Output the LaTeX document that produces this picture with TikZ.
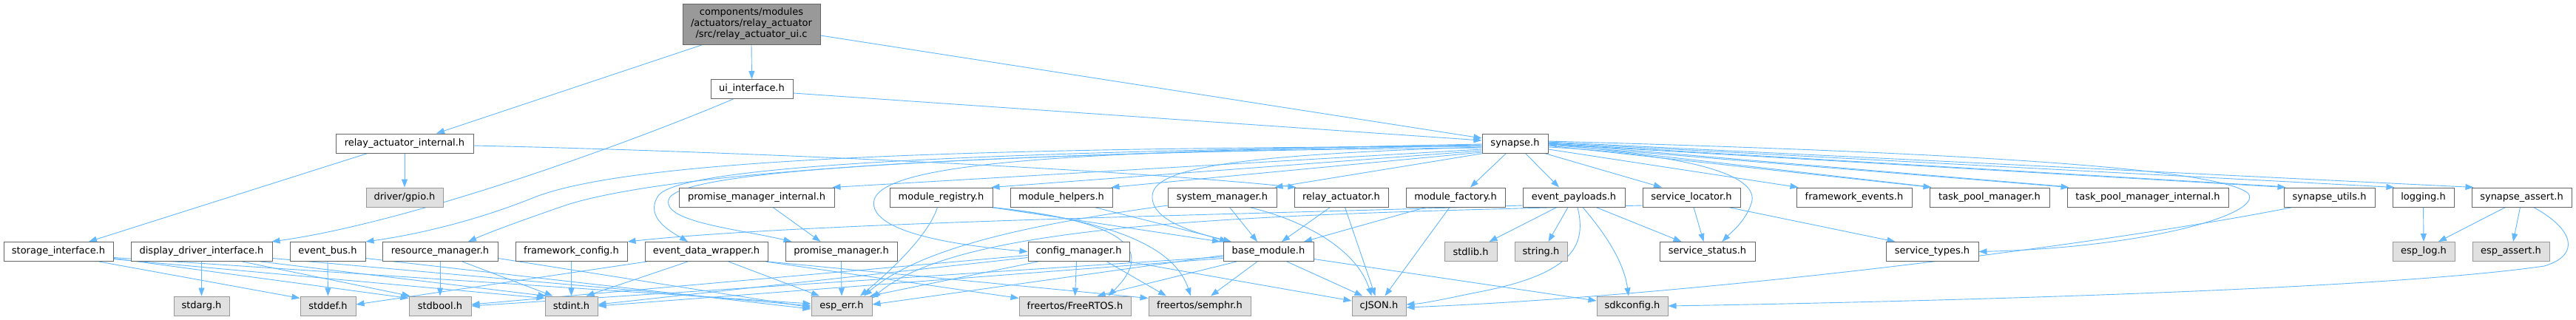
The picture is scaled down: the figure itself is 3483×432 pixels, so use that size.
\documentclass[tikz,border=0pt]{standalone}
\usepackage{fontspec}
\setmainfont{DejaVu Sans}
\usetikzlibrary{arrows.meta}
\definecolor{edgec}{HTML}{63B8FF}
\definecolor{nborder}{HTML}{666666}
\definecolor{gborder}{HTML}{999999}
\definecolor{gfill}{HTML}{E0E0E0}
\definecolor{mfill}{HTML}{999999}
\pgfdeclarelayer{bg}
\pgfsetlayers{bg,main}
\tikzset{
  nb/.style={draw=nborder, fill=white, line width=1pt, inner sep=0pt, minimum height=26pt, font=\fontsize{13}{15}\selectfont},
  gb/.style={nb, draw=gborder, fill=gfill},
  mainbox/.style={nb, fill=mfill, align=center},
  e/.style={draw=edgec, line width=0.9pt, -{Triangle[length=11pt,width=8pt]}},
}
\begin{document}
\begin{tikzpicture}[x=1pt,y=-1pt]
\useasboundingbox (0,0) rectangle (3483,432);
% nodes
\node[mainbox, minimum width=186pt, minimum height=55pt] (main) at (1016,32.5) {components/modules\\/actuators/relay\_actuator\\/src/relay\_actuator\_ui.c};
\node[nb, minimum width=111pt] (ui) at (1016.5,120.5) {ui\_interface.h};
\node[nb, minimum width=186pt] (rai) at (547,194) {relay\_actuator\_internal.h};
\node[nb, minimum width=89pt] (syn) at (2048.5,194) {synapse.h};
% row 3
\node[gb, minimum width=104pt] (gpio) at (547,267) {driver/gpio.h};
\node[nb, minimum width=210pt] (pmi) at (1023,267) {promise\_manager\_internal.h};
\node[nb, minimum width=139pt] (mreg) at (1272.5,267) {module\_registry.h};
\node[nb, minimum width=138pt] (mhelp) at (1435,267) {module\_helpers.h};
\node[nb, minimum width=147pt] (sysm) at (1652.5,267) {system\_manager.h};
\node[nb, minimum width=127pt] (ract) at (1813.5,267) {relay\_actuator.h};
\node[nb, minimum width=134pt] (mfac) at (1968,267) {module\_factory.h};
\node[nb, minimum width=138pt] (epay) at (2128,267) {event\_payloads.h};
\node[nb, minimum width=132pt] (sloc) at (2287,267) {service\_locator.h};
\node[nb, minimum width=156pt] (fev) at (2507,267) {framework\_events.h};
\node[nb, minimum width=162pt] (tpm) at (2690,267) {task\_pool\_manager.h};
\node[nb, minimum width=218pt] (tpmi) at (2904,267) {task\_pool\_manager\_internal.h};
\node[nb, minimum width=123pt] (sutil) at (3149.5,267) {synapse\_utils.h};
\node[nb, minimum width=83pt] (log) at (3276.5,267) {logging.h};
\node[nb, minimum width=135pt] (sassert) at (3409.5,267) {synapse\_assert.h};
% row 4
\node[nb, minimum width=148pt] (stor) at (79,340.5) {storage\_interface.h};
\node[nb, minimum width=191pt] (disp) at (272.5,340.5) {display\_driver\_interface.h};
\node[nb, minimum width=102pt] (ebus) at (443,340.5) {event\_bus.h};
\node[nb, minimum width=156pt] (resm) at (595,340.5) {resource\_manager.h};
\node[nb, minimum width=151pt] (fcfg) at (772.5,340.5) {framework\_config.h};
\node[nb, minimum width=166pt] (edw) at (955,340.5) {event\_data\_wrapper.h};
\node[nb, minimum width=151pt] (pm) at (1137.5,340.5) {promise\_manager.h};
\node[nb, minimum width=137pt] (cfgm) at (1458.5,340.5) {config\_manager.h};
\node[nb, minimum width=122pt] (base) at (1715,340.5) {base\_module.h};
\node[gb, minimum width=71pt] (stdlib) at (1988.5,340.5) {stdlib.h};
\node[gb, minimum width=71pt] (string) at (2083.5,340.5) {string.h};
\node[nb, minimum width=129pt] (sstat) at (2308.5,340.5) {service\_status.h};
\node[nb, minimum width=125pt] (stypes) at (2612.5,340.5) {service\_types.h};
\node[gb, minimum width=84pt] (esplog) at (3277,340.5) {esp\_log.h};
\node[gb, minimum width=104pt] (espassert) at (3395,340.5) {esp\_assert.h};
% row 5
\node[gb, minimum width=75pt] (stdarg) at (272.5,414) {stdarg.h};
\node[gb, minimum width=75pt] (stddef) at (443.5,414) {stddef.h};
\node[gb, minimum width=84pt] (stdbool) at (595,414) {stdbool.h};
\node[gb, minimum width=71pt] (stdint) at (772.5,414) {stdint.h};
\node[gb, minimum width=82pt] (esperr) at (1138,414) {esp\_err.h};
\node[gb, minimum width=151pt] (freertos) at (1453.5,414) {freertos/FreeRTOS.h};
\node[gb, minimum width=138pt] (semphr) at (1622,414) {freertos/semphr.h};
\node[gb, minimum width=73pt] (cjson) at (1864.5,414) {cJSON.h};
\node[gb, minimum width=96pt] (sdk) at (2207,414) {sdkconfig.h};
\begin{pgfonlayer}{bg}
\fill[white] (0,0) rectangle (3483,432);
% top
\draw[e] ([xshift=-66pt]main.south) -- ([xshift=43pt]rai.north);
\draw[e] (main.south) -- (ui.north);
\draw[e] ([yshift=-15.5pt]main.east) -- ([yshift=7pt]syn.west);
\draw[e] ([yshift=-5.5pt]ui.east) -- ([yshift=4pt]syn.west);
\draw[e] ([xshift=-25pt]ui.south) .. controls (860,190) and (560,300) .. ([xshift=95pt]disp.north);
\draw[e] ([xshift=-50pt]rai.south) -- ([xshift=41pt]stor.north);
\draw[e] (rai.south) -- (gpio.north);
\draw[e] ([yshift=-3pt]rai.east) .. controls (1000,205) and (1500,228) .. ([xshift=3pt]ract.north west);
% synapse, left fan
\draw[e] ([yshift=-4pt]syn.west) .. controls (1300,200) and (850,215) .. (720,268) .. controls (640,300) and (560,318) .. (ebus.north east);
\draw[e] ([yshift=-6pt]syn.west) .. controls (1300,205) and (900,235) .. (767,277) .. controls (700,300) and (660,315) .. ([xshift=38pt]resm.north);
\draw[e] ([yshift=-2pt]syn.west) .. controls (1400,205) and (920,220) .. (890,265) .. controls (870,295) and (910,315) .. ([xshift=-25pt]edw.north);
\draw[e] ([yshift=-3pt]syn.west) .. controls (1400,208) and (930,225) .. (905,268) .. controls (890,300) and (1000,310) .. ([xshift=-67pt]pm.north);
\draw[e] ([yshift=-8pt]syn.west) -- ([xshift=-3pt]pmi.north east);
\draw[e] ([yshift=-10pt]syn.west) -- ([xshift=-2pt]mreg.north east);
\draw[e] ([yshift=-12pt]syn.west) -- ([xshift=-2pt]mhelp.north east);
\draw[e] ([xshift=2pt]syn.south west) -- ([xshift=-3pt]sysm.north east);
\draw[e] ([yshift=-5pt]syn.west) .. controls (1650,210) and (1560,230) .. (1558,265) .. controls (1556,300) and (1620,315) .. ([xshift=-55pt]base.north);
\draw[e] ([yshift=-1pt]syn.west) .. controls (1500,205) and (1200,215) .. (1182,270) .. controls (1170,320) and (1330,335) .. (cfgm.west);
% synapse, right fan
\draw[e] ([xshift=-12pt]syn.south) -- ([xshift=20pt]mfac.north);
\draw[e] ([xshift=14pt]syn.south) -- ([xshift=-20pt]epay.north);
\draw[e] ([xshift=-5pt]syn.south east) -- ([xshift=-40pt]sloc.north);
\draw[e] ([yshift=-8pt]syn.east) -- ([xshift=3pt]fev.north west);
\draw[e] ([yshift=-5pt]syn.east) .. controls (2300,210) and (2380,240) .. (2368,275) .. controls (2360,300) and (2340,315) .. ([xshift=20pt]sstat.north);
\draw[e] ([yshift=-3pt]syn.east) -- ([xshift=3pt]tpm.north west);
\draw[e] ([xshift=-2pt,yshift=1pt]tpm.north west) -- (syn.east);
\draw[e] ([yshift=-2pt]syn.east) -- ([xshift=3pt]tpmi.north west);
\draw[e] ([xshift=-2pt,yshift=1pt]tpmi.north west) -- (syn.east);
\draw[e] ([yshift=-1pt]syn.east) -- ([xshift=3pt]sutil.north west);
\draw[e] ([xshift=-2pt,yshift=1pt]sutil.north west) -- (syn.east);
\draw[e] ([yshift=1pt]syn.east) -- ([xshift=3pt]log.north west);
\draw[e] ([yshift=2pt]syn.east) -- ([xshift=3pt]sassert.north west);
\draw[e] ([yshift=3pt]syn.east) .. controls (2600,205) and (3000,225) .. (3040,262) .. controls (3060,290) and (2900,335) .. (stypes.east);
% row 3 down
\draw[e] ([xshift=22pt]pmi.south) -- ([xshift=-28pt]pm.north);
\draw[e] ([xshift=-5pt]mreg.south) .. controls (1255,320) and (1200,370) .. ([xshift=25pt]esperr.north);
\draw[e] ([xshift=-2pt]mreg.south east) -- ([xshift=-65pt]base.north);
\draw[e] ([xshift=-2pt]mreg.south east) .. controls (1530,300) and (1560,340) .. ([xshift=45pt]freertos.north);
\draw[e] ([xshift=-2pt]mreg.south east) .. controls (1520,300) and (1590,340) .. ([xshift=-12pt]semphr.north);
\draw[e] ([xshift=45pt]mhelp.south) -- ([xshift=-50pt]base.north);
\draw[e] ([xshift=10pt]sysm.south) -- ([xshift=-15pt]base.north);
\draw[e] ([xshift=37pt]sysm.south) .. controls (1770,300) and (1835,340) .. ([xshift=-10pt]cjson.north);
\draw[e] ([yshift=-11pt]sysm.west) .. controls (1420,300) and (1250,330) .. ([xshift=30pt]esperr.north);
\draw[e] ([xshift=-15pt]ract.south) -- ([xshift=18pt]base.north);
\draw[e] ([xshift=5pt]ract.south) -- ([xshift=-5pt]cjson.north);
\draw[e] ([xshift=-40pt]mfac.south) -- ([xshift=48pt]base.north);
\draw[e] ([xshift=-8pt]mfac.south) -- ([xshift=8pt]cjson.north);
\draw[e] ([xshift=-23pt]epay.south) -- ([xshift=25pt]stdlib.north);
\draw[e] ([xshift=-8pt]epay.south) -- ([xshift=10pt]string.north);
\draw[e] ([xshift=30pt]epay.south) -- ([xshift=-35pt]sstat.north);
\draw[e] ([xshift=12pt]epay.south) .. controls (2165,310) and (2195,350) .. ([xshift=-5pt]sdk.north);
\draw[e] ([xshift=5pt]epay.south) .. controls (2145,330) and (2130,370) .. (2000,395) .. controls (1960,403) and (1930,410) .. ([yshift=2pt]cjson.east);
\draw[e] ([yshift=-11pt]epay.west) .. controls (1700,290) and (1100,300) .. (fcfg.north east);
\draw[e] ([yshift=-11pt]sloc.west) .. controls (1700,290) and (1300,300) .. ([yshift=-3pt]esperr.north east);
\draw[e] ([xshift=3pt]sloc.south) -- ([xshift=-5pt]sstat.north);
\draw[e] ([xshift=50pt]sloc.south) -- ([xshift=-50pt]stypes.north);
\draw[e] ([xshift=-50pt]sutil.south) .. controls (2850,330) and (2300,400) .. ([yshift=-2pt]cjson.east);
\draw[e] (log.south) -- (esplog.north);
\draw[e] ([xshift=-22pt]sassert.south) -- ([xshift=20pt]esplog.north);
\draw[e] ([xshift=-2pt]sassert.south) -- ([xshift=3pt]espassert.north);
\draw[e] ([xshift=16pt]sassert.south) .. controls (3480,310) and (3490,345) .. (3440,360) .. controls (3200,395) and (2500,410) .. (sdk.east);
% row 4 down
\draw[e] ([yshift=-5pt]base.west) -- ([yshift=2pt]esperr.east);
\draw[e] ([yshift=-7pt]base.west) -- (stdbool.east);
\draw[e] ([yshift=-9pt]base.west) -- (stdint.east);
\draw[e] ([xshift=-43pt]base.south) -- ([xshift=30pt]freertos.north);
\draw[e] ([xshift=-15pt]base.south) -- ([xshift=15pt]semphr.north);
\draw[e] ([xshift=25pt]base.south) -- ([xshift=-22pt]cjson.north);
\draw[e] ([yshift=-10pt]base.east) -- ([yshift=7pt]sdk.west);
\draw[e] ([xshift=-55pt]cfgm.south) -- ([xshift=38pt]esperr.north);
\draw[e] ([xshift=-3pt]cfgm.south) -- (freertos.north);
\draw[e] ([xshift=38pt]cfgm.south) -- ([xshift=-45pt]semphr.north);
\draw[e] ([xshift=-2pt]cfgm.south east) -- ([yshift=7pt]cjson.west);
\draw[e] ([yshift=-5pt]cfgm.west) -- ([yshift=2pt]stdbool.east);
\draw[e] ([yshift=-8pt]cfgm.west) -- ([yshift=2pt]stdint.east);
\draw[e] ([xshift=3pt]edw.south west) -- ([yshift=2pt]stddef.east);
\draw[e] ([xshift=-25pt]edw.south) -- ([xshift=20pt]stdint.north);
\draw[e] ([xshift=30pt]edw.south) -- ([xshift=-30pt]esperr.north);
\draw[e] ([xshift=-3pt]edw.south east) -- ([yshift=-3pt]freertos.north west);
\draw[e] (edw.south east) -- ([yshift=-3pt]semphr.north west);
\draw[e] (pm.south) -- (esperr.north);
\draw[e] (fcfg.south) -- (stdint.north);
\draw[e] (resm.south) -- (stdbool.north);
\draw[e] ([xshift=30pt]resm.south) -- ([xshift=-25pt]stdint.north);
\draw[e] ([yshift=-9pt]resm.east) -- ([yshift=-2pt]esperr.west);
\draw[e] (ebus.south) -- (stddef.north);
\draw[e] ([yshift=-9pt]ebus.east) -- ([yshift=-4pt]esperr.west);
\draw[e] (disp.south) -- (stdarg.north);
\draw[e] ([xshift=55pt]disp.south) -- ([xshift=2pt]stdbool.north west);
\draw[e] ([xshift=80pt]disp.south) -- ([xshift=2pt]stdint.north west);
\draw[e] ([yshift=-9pt]disp.east) -- (esperr.west);
\draw[e] ([xshift=55pt]stor.south) -- ([yshift=-3pt]stddef.north west);
\draw[e] ([yshift=-9pt]stor.east) -- ([yshift=-3pt]stdbool.north west);
\draw[e] ([yshift=-10pt]stor.east) -- ([yshift=-3pt]stdint.north west);
\draw[e] ([yshift=-8pt]stor.east) -- ([yshift=3pt]esperr.west);
\end{pgfonlayer}
\end{tikzpicture}
\end{document}
